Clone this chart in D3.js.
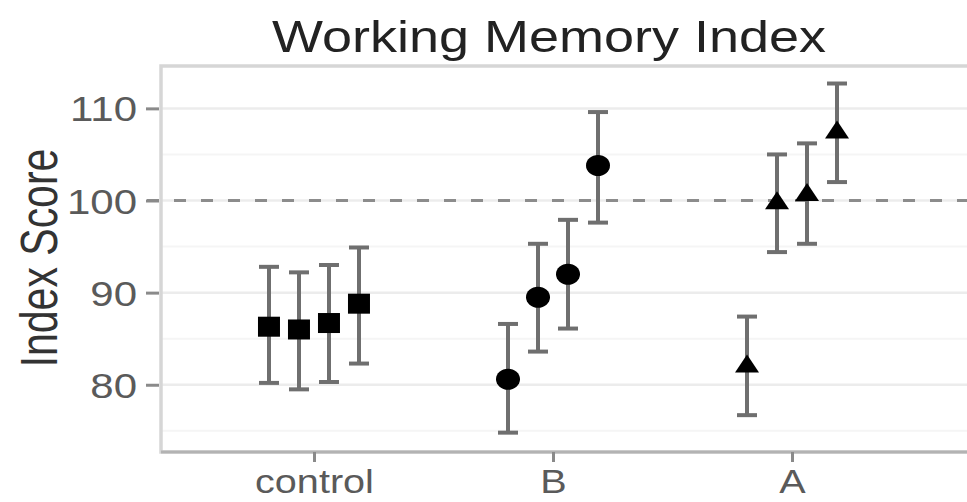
<!DOCTYPE html>
<html>
<head>
<meta charset="utf-8">
<script src="https://cdn.jsdelivr.net/npm/d3@7"></script>
<style>
  body { margin: 0; background: #fff; }
  svg { display: block; font-family: "Liberation Sans", Arial, sans-serif; }
</style>
</head>
<body>
<svg id="chart"></svg>
<script>
// data
const groups = ["control", "B", "A"];
const shapes = ["square", "circle", "triangle"];
const means = [
  [86.3, 86.0, 86.7, 88.8],
  [80.6, 89.5, 92.0, 103.8],
  [82.1, 99.8, 100.7, 107.5],
];
const upper = [
  [92.8, 92.2, 93.0, 94.9],
  [86.6, 95.3, 97.9, 109.6],
  [87.4, 105.0, 106.2, 112.7],
];
const lower = [
  [80.2, 79.5, 80.3, 82.3],
  [74.8, 83.6, 86.1, 97.6],
  [76.7, 94.4, 95.3, 102.0],
];
const yTicks = [80, 90, 100, 110];
const yMinor = [75, 85, 95, 105];
const refLine = 100;

// dimensions
const width = 967;
const height = 502;
const panelLeft = 161;
const panelTop = 66;
const panelBottom = 452;
const panelRight = 1000;
const stretch = 1.2; // text in the picture is a bit wide

const svg = d3.select("#chart").attr("width", width).attr("height", height);

const xScale = d3.scalePoint().domain(groups).range([panelLeft, 945]).padding(0.64);
const dodge = d3.scalePoint().domain([0, 1, 2, 3]).range([-45, 45]);
const yScale = d3.scaleLinear().domain([72.7, 114.6]).range([panelBottom, panelTop]);

// flatten to one row per point
let dataSet = [];
groups.forEach((g, gi) => {
  means[gi].forEach((m, si) => {
    dataSet.push({ group: g, shape: shapes[gi], series: si, mean: m, hi: upper[gi][si], lo: lower[gi][si] });
  });
});

const drawPanel = () => {
  svg.append("rect")
    .attr("x", panelLeft).attr("y", panelTop)
    .attr("width", panelRight - panelLeft).attr("height", panelBottom - panelTop)
    .attr("fill", "#fff");

  svg.selectAll(".minor").data(yMinor).enter().append("line")
    .attr("class", "minor")
    .attr("x1", panelLeft).attr("x2", panelRight)
    .attr("y1", (d) => yScale(d)).attr("y2", (d) => yScale(d))
    .attr("stroke", "#f5f5f5").attr("stroke-width", 2);

  svg.selectAll(".major").data(yTicks).enter().append("line")
    .attr("class", "major")
    .attr("x1", panelLeft).attr("x2", panelRight)
    .attr("y1", (d) => yScale(d)).attr("y2", (d) => yScale(d))
    .attr("stroke", "#ececec").attr("stroke-width", 2.5);

  // border
  svg.append("rect")
    .attr("x", panelLeft).attr("y", panelTop)
    .attr("width", panelRight - panelLeft).attr("height", panelBottom - panelTop)
    .attr("fill", "none").attr("stroke", "#d6d6d6").attr("stroke-width", 3.5);
  svg.append("line")
    .attr("x1", panelLeft).attr("x2", panelRight)
    .attr("y1", panelBottom).attr("y2", panelBottom)
    .attr("stroke", "#b3b3b3").attr("stroke-width", 3);
};

const drawAxes = () => {
  const yAxis = d3.axisLeft(yScale).tickValues(yTicks).tickSize(13).tickPadding(9);
  const gy = svg.append("g").attr("transform", "translate(" + (panelLeft - 2) + ",0)").call(yAxis);
  gy.select(".domain").remove();
  gy.selectAll(".tick line").attr("stroke", "#8a8a8a").attr("stroke-width", 3);
  gy.selectAll(".tick text")
    .attr("fill", "#5a5a5a").attr("font-size", 35)
    .attr("dy", "0.36em")
    .attr("transform", "scale(" + stretch + ",1)")
    .attr("x", -22 / stretch);

  const xAxis = d3.axisBottom(xScale).tickSize(10).tickPadding(8);
  const gx = svg.append("g").attr("transform", "translate(0," + panelBottom + ")").call(xAxis);
  gx.select(".domain").remove();
  gx.selectAll(".tick line").attr("stroke", "#8a8a8a").attr("stroke-width", 3);
  gx.selectAll(".tick text")
    .attr("fill", "#5a5a5a").attr("font-size", 33)
    .attr("dy", "0.71em")
    .attr("transform", "scale(" + stretch + ",1)");

  svg.append("text")
    .attr("transform", "translate(57,258) scale(1.25,1) rotate(-90)")
    .attr("text-anchor", "middle")
    .attr("font-size", 41)
    .attr("fill", "#333")
    .text("Index Score");

  svg.append("text")
    .attr("transform", "translate(549,52) scale(" + stretch + ",1)")
    .attr("text-anchor", "middle")
    .attr("font-size", 45)
    .attr("fill", "#222")
    .text("Working Memory Index");
};

const drawRefLine = () => {
  svg.append("line")
    .attr("x1", panelLeft - 14).attr("x2", panelRight)
    .attr("y1", yScale(refLine)).attr("y2", yScale(refLine))
    .attr("stroke", "#8c8c8c").attr("stroke-width", 3)
    .attr("stroke-dasharray", "12,15");
};

const px = (d) => xScale(d.group) + dodge(d.series);

const drawErrorBars = () => {
  const bars = svg.append("g").selectAll("g").data(dataSet).enter().append("g")
    .attr("stroke", "#6f6f6f").attr("stroke-width", 4);
  bars.append("line")
    .attr("x1", px).attr("x2", px)
    .attr("y1", (d) => yScale(d.hi)).attr("y2", (d) => yScale(d.lo));
  bars.append("line")
    .attr("x1", (d) => px(d) - 10).attr("x2", (d) => px(d) + 10)
    .attr("y1", (d) => yScale(d.hi)).attr("y2", (d) => yScale(d.hi));
  bars.append("line")
    .attr("x1", (d) => px(d) - 10).attr("x2", (d) => px(d) + 10)
    .attr("y1", (d) => yScale(d.lo)).attr("y2", (d) => yScale(d.lo));
};

const drawPoints = () => {
  const g = svg.append("g");
  dataSet.forEach((d) => {
    const x = px(d);
    const y = yScale(d.mean);
    if (d.shape === "square") {
      g.append("rect").attr("x", x - 11).attr("y", y - 10).attr("width", 22).attr("height", 20).attr("fill", "#000");
    } else if (d.shape === "circle") {
      g.append("ellipse").attr("cx", x).attr("cy", y).attr("rx", 12).attr("ry", 10.5).attr("fill", "#000");
    } else {
      g.append("path")
        .attr("d", "M" + x + "," + (y - 11) + "L" + (x + 12) + "," + (y + 7) + "L" + (x - 12) + "," + (y + 7) + "Z")
        .attr("fill", "#000");
    }
  });
};

drawPanel();
drawRefLine();
drawAxes();
drawErrorBars();
drawPoints();
</script>
</body>
</html>
